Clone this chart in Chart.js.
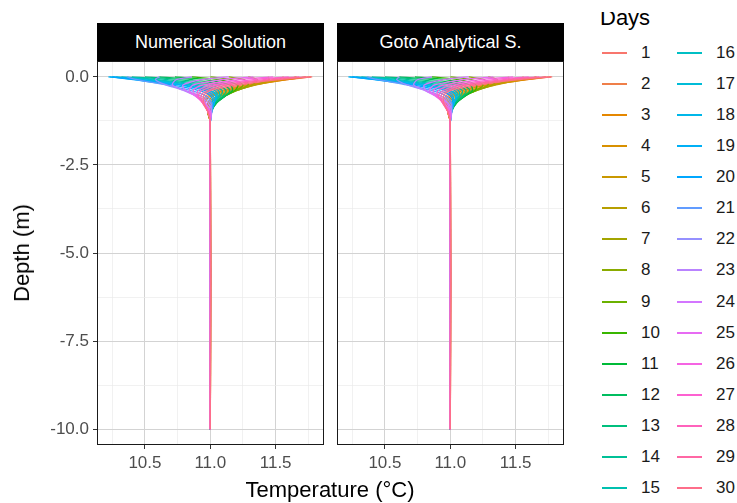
<!DOCTYPE html>
<html>
<head>
<meta charset="utf-8">
<script src="https://cdn.jsdelivr.net/npm/chart.js@4.4.1/dist/chart.umd.min.js"></script>
<style>
body{margin:0;background:#fff;font-family:"Liberation Sans",Arial,sans-serif;}
#wrap{position:relative;width:737px;height:503px;overflow:hidden;background:#fff;}
canvas{position:absolute;}
.strip{position:absolute;top:23px;height:38px;background:#000;color:#fff;font-size:18px;line-height:38px;text-align:center;}
.title{position:absolute;color:#000;font-size:22px;white-space:nowrap;}
#ytitle{left:22px;top:253px;transform:translate(-50%,-50%) rotate(-90deg);}
#xtitle{left:330px;top:490px;transform:translate(-50%,-50%);}
#legtitle{position:absolute;left:600px;top:12px;height:25px;overflow:hidden;font-size:22px;}
#legtitle span{position:relative;top:-4.6px;line-height:22px;display:block;}
.key{position:absolute;width:25px;height:2px;}
.lab{position:absolute;font-size:17px;line-height:20px;color:#1a1a1a;}
</style>
</head>
<body>
<div id="wrap">
  <div class="strip" style="left:97px;width:227px;">Numerical Solution</div>
  <div class="strip" style="left:337px;width:227px;">Goto Analytical S.</div>
  <canvas id="c1" width="294" height="419" style="left:30px;top:61px;"></canvas>
  <canvas id="c2" width="227" height="419" style="left:337px;top:61px;"></canvas>
  <div class="title" id="ytitle">Depth (m)</div>
  <div class="title" id="xtitle">Temperature (°C)</div>
  <div id="legtitle"><span>Days</span></div>
  <div id="legend"></div>
</div>
<script>
// days shown in the legend
var days = [1,2,3,4,5,6,7,8,9,10,11,12,13,14,15,16,17,18,19,20,21,22,23,24,25,26,27,28,29,30];
// depth of each profile point (m)
var depths = [0, -0.08, -0.23, -0.38, -0.53, -0.73, -0.98, -1.3, -10];

// temperature profiles, one row per day
var numerical = [
  [11.78, 11.57, 11.24, 11.05, 10.97, 10.95, 10.98, 11.00, 11.00],
  [11.77, 11.59, 11.28, 11.09, 10.99, 10.96, 10.98, 11.00, 11.00],
  [11.73, 11.59, 11.31, 11.12, 11.01, 10.96, 10.98, 11.00, 11.00],
  [11.66, 11.57, 11.34, 11.15, 11.03, 10.98, 10.98, 11.00, 11.00],
  [11.56, 11.52, 11.35, 11.18, 11.06, 10.99, 10.98, 11.00, 11.00],
  [11.44, 11.45, 11.34, 11.20, 11.08, 11.00, 10.98, 11.00, 11.00],
  [11.29, 11.36, 11.32, 11.21, 11.09, 11.01, 10.98, 11.00, 11.00],
  [11.14, 11.26, 11.29, 11.21, 11.11, 11.03, 10.99, 11.00, 11.00],
  [11.00, 11.16, 11.25, 11.20, 11.12, 11.04, 11.00, 11.00, 11.00],
  [10.86, 11.06, 11.21, 11.19, 11.12, 11.05, 11.00, 11.00, 11.00],
  [10.73, 10.96, 11.15, 11.17, 11.12, 11.05, 11.01, 11.00, 11.00],
  [10.61, 10.86, 11.10, 11.15, 11.12, 11.05, 11.01, 11.00, 11.00],
  [10.50, 10.76, 11.04, 11.12, 11.10, 11.04, 11.01, 11.00, 11.00],
  [10.40, 10.67, 10.98, 11.09, 11.08, 11.03, 11.01, 11.00, 11.00],
  [10.32, 10.59, 10.92, 11.06, 11.07, 11.03, 11.01, 11.00, 11.00],
  [10.28, 10.54, 10.87, 11.03, 11.06, 11.03, 11.01, 11.00, 11.00],
  [10.25, 10.49, 10.83, 11.00, 11.05, 11.03, 11.01, 11.00, 11.00],
  [10.23, 10.46, 10.79, 10.98, 11.04, 11.03, 11.01, 11.00, 11.00],
  [10.22, 10.43, 10.76, 10.95, 11.02, 11.03, 11.01, 11.00, 11.00],
  [10.25, 10.41, 10.70, 10.90, 11.00, 11.02, 11.01, 11.00, 11.00],
  [10.36, 10.44, 10.66, 10.84, 10.96, 11.01, 11.01, 11.00, 11.00],
  [10.61, 10.58, 10.66, 10.80, 10.92, 11.00, 11.01, 11.00, 11.00],
  [10.86, 10.74, 10.71, 10.79, 10.89, 10.98, 11.01, 11.00, 11.00],
  [11.14, 10.94, 10.79, 10.81, 10.88, 10.96, 11.00, 11.00, 11.00],
  [11.33, 11.09, 10.87, 10.84, 10.88, 10.95, 11.00, 11.00, 11.00],
  [11.48, 11.22, 10.95, 10.87, 10.89, 10.94, 10.99, 11.00, 11.00],
  [11.60, 11.33, 11.02, 10.91, 10.90, 10.94, 10.99, 11.00, 11.00],
  [11.68, 11.41, 11.08, 10.94, 10.91, 10.94, 10.98, 11.00, 11.00],
  [11.73, 11.48, 11.14, 10.98, 10.93, 10.94, 10.98, 11.00, 11.00],
  [11.77, 11.53, 11.20, 11.01, 10.95, 10.95, 10.98, 11.00, 11.00]
];
var analytical = [
  [11.78, 11.56, 11.23, 11.05, 10.97, 10.95, 10.98, 11.00, 11.00],
  [11.77, 11.58, 11.27, 11.08, 10.99, 10.96, 10.98, 11.00, 11.00],
  [11.73, 11.59, 11.30, 11.11, 11.01, 10.97, 10.98, 11.00, 11.00],
  [11.66, 11.57, 11.33, 11.15, 11.03, 10.98, 10.98, 11.00, 11.00],
  [11.56, 11.52, 11.35, 11.18, 11.05, 10.99, 10.98, 11.00, 11.00],
  [11.44, 11.45, 11.34, 11.19, 11.08, 11.00, 10.99, 11.00, 11.00],
  [11.29, 11.36, 11.32, 11.21, 11.09, 11.01, 10.99, 11.00, 11.00],
  [11.14, 11.26, 11.29, 11.21, 11.10, 11.03, 10.99, 11.00, 11.00],
  [11.00, 11.16, 11.25, 11.20, 11.11, 11.04, 11.00, 11.00, 11.00],
  [10.86, 11.06, 11.20, 11.19, 11.12, 11.05, 11.00, 11.00, 11.00],
  [10.73, 10.96, 11.15, 11.17, 11.12, 11.05, 11.01, 11.00, 11.00],
  [10.61, 10.86, 11.09, 11.15, 11.11, 11.05, 11.01, 11.00, 11.00],
  [10.50, 10.77, 11.04, 11.12, 11.10, 11.04, 11.01, 11.00, 11.00],
  [10.40, 10.68, 10.98, 11.09, 11.08, 11.03, 11.01, 11.00, 11.00],
  [10.32, 10.60, 10.92, 11.06, 11.07, 11.03, 11.01, 11.00, 11.00],
  [10.28, 10.54, 10.87, 11.03, 11.06, 11.03, 11.01, 11.00, 11.00],
  [10.25, 10.50, 10.83, 11.00, 11.05, 11.03, 11.01, 11.00, 11.00],
  [10.23, 10.46, 10.79, 10.98, 11.04, 11.03, 11.01, 11.00, 11.00],
  [10.22, 10.43, 10.76, 10.95, 11.02, 11.02, 11.01, 11.00, 11.00],
  [10.25, 10.42, 10.71, 10.90, 11.00, 11.02, 11.01, 11.00, 11.00],
  [10.36, 10.45, 10.67, 10.85, 10.96, 11.01, 11.01, 11.00, 11.00],
  [10.61, 10.59, 10.67, 10.81, 10.92, 11.00, 11.01, 11.00, 11.00],
  [10.86, 10.75, 10.72, 10.80, 10.89, 10.98, 11.01, 11.00, 11.00],
  [11.14, 10.95, 10.80, 10.81, 10.88, 10.97, 11.00, 11.00, 11.00],
  [11.33, 11.10, 10.88, 10.84, 10.88, 10.95, 11.00, 11.00, 11.00],
  [11.48, 11.23, 10.96, 10.87, 10.89, 10.95, 10.99, 11.00, 11.00],
  [11.60, 11.33, 11.03, 10.91, 10.90, 10.94, 10.99, 11.00, 11.00],
  [11.68, 11.41, 11.09, 10.95, 10.91, 10.94, 10.98, 11.00, 11.00],
  [11.73, 11.47, 11.14, 10.98, 10.93, 10.94, 10.98, 11.00, 11.00],
  [11.77, 11.53, 11.20, 11.01, 10.95, 10.95, 10.98, 11.00, 11.00]
];

// axis breaks
var xMajor = [10.5, 11.0, 11.5];
var xMinor = [10.25, 10.75, 11.25, 11.75];
var yMajor = [0, -2.5, -5, -7.5, -10];
var yMinor = [-1.25, -3.75, -6.25, -8.75];

Chart.defaults.font.family = '"Liberation Sans", Arial, sans-serif';

// ggplot-like hue palette (hcl, c=100, l=65)
function hcl(h, c, l){
  var hr = h*Math.PI/180;
  var U = c*Math.cos(hr), V = c*Math.sin(hr);
  var Xn = 95.047, Yn = 100, Zn = 108.883;
  var Y = Yn*Math.pow((l+16)/116, 3);
  var t = Xn + 15*Yn + 3*Zn;
  var u = U/(13*l) + 4*Xn/t, v = V/(13*l) + 9*Yn/t;
  var X = 9*Y*u/(4*v), Z = Y*(12 - 3*u - 20*v)/(4*v);
  X/=100; Y/=100; Z/=100;
  var r = 3.2406*X - 1.5372*Y - 0.4986*Z;
  var g = -0.9689*X + 1.8758*Y + 0.0415*Z;
  var b = 0.0557*X - 0.2040*Y + 1.0570*Z;
  function gam(x){ x = x<=0.0031308 ? 12.92*x : 1.055*Math.pow(x,1/2.4)-0.055; return Math.round(Math.max(0,Math.min(1,x))*255); }
  return 'rgb('+gam(r)+','+gam(g)+','+gam(b)+')';
}
var colors = days.map(function(d,i){ return hcl(15 + i*360/days.length, 100, 65); });

function isMajor(v, list){
  for(var i=0;i<list.length;i++){ if(Math.abs(list[i]-v)<1e-6) return true; }
  return false;
}
function numAsc(a,b){ return a-b; }

var borderPlugin = {
  id:'panelBorder',
  afterDraw:function(chart){
    var a = chart.chartArea, ctx = chart.ctx;
    ctx.save();
    ctx.strokeStyle = '#1a1a1a';
    ctx.lineWidth = 1;
    ctx.strokeRect(Math.round(a.left)+0.5, Math.round(a.top)+0.5, Math.round(a.right-a.left)-1, Math.round(a.bottom-a.top)-1);
    ctx.restore();
  }
};

function makePanel(id, temps, showY){
  var datasets = [];
  for(var i=0;i<days.length;i++){
    var pts = [];
    for(var j=0;j<depths.length;j++){ pts.push({x: temps[i][j], y: depths[j]}); }
    datasets.push({
      label: String(days[i]),
      data: pts,
      showLine: true,
      borderColor: colors[i],
      borderWidth: 1.3,
      pointRadius: 0,
      tension: 0.3,
      order: days.length - i
    });
  }
  return new Chart(document.getElementById(id), {
    type:'scatter',
    data:{datasets: datasets},
    plugins:[borderPlugin],
    options:{
      responsive:false,
      animation:false,
      devicePixelRatio:1,
      layout:{padding:0},
      plugins:{legend:{display:false}, tooltip:{enabled:false}},
      scales:{
        x:{
          type:'linear', min:10.133, max:11.870,
          afterBuildTicks:function(s){ s.ticks = xMinor.concat(xMajor).sort(numAsc).map(function(v){return {value:v};}); },
          afterFit:function(s){ s.height = 35; s.paddingLeft = 0; s.paddingRight = 0; },
          border:{display:false},
          grid:{
            color:function(c){ return isMajor(c.tick.value, xMajor) ? '#d3d3d3' : '#ebebeb'; },
            lineWidth:function(c){ return isMajor(c.tick.value, xMajor) ? 1 : 0.7; },
            tickColor:function(c){ return isMajor(c.tick.value, xMajor) ? '#333333' : 'rgba(0,0,0,0)'; },
            tickLength:4
          },
          ticks:{
            autoSkip:false, maxRotation:0, padding:4,
            color:'#4d4d4d', font:{size:17},
            callback:function(v){ return isMajor(v, xMajor) ? v.toFixed(1) : ''; }
          }
        },
        y:{
          type:'linear', min:-10.45, max:0.45,
          afterBuildTicks:function(s){ s.ticks = yMajor.concat(yMinor).sort(numAsc).map(function(v){return {value:v};}); },
          afterFit:function(s){ s.width = showY ? 67 : 0; s.paddingTop = 0; s.paddingBottom = 0; },
          border:{display:false},
          grid:{
            color:function(c){ return isMajor(c.tick.value, yMajor) ? '#d3d3d3' : '#ebebeb'; },
            lineWidth:function(c){ return isMajor(c.tick.value, yMajor) ? 1 : 0.7; },
            tickColor:function(c){ return isMajor(c.tick.value, yMajor) ? '#333333' : 'rgba(0,0,0,0)'; },
            drawTicks: showY,
            tickLength:4
          },
          ticks:{
            display: showY, autoSkip:false, padding:4,
            color:'#4d4d4d', font:{size:17},
            callback:function(v){ return isMajor(v, yMajor) ? v.toFixed(1) : ''; }
          }
        }
      }
    }
  });
}

makePanel('c1', numerical, true);
makePanel('c2', analytical, false);

// legend, two columns of 15
var leg = document.getElementById('legend');
var html = '';
for(var i=0;i<days.length;i++){
  var col = Math.floor(i/15), row = i%15;
  var cy = Math.round(53 + row*31.07);
  var kx = col ? 677 : 602;
  var lx = col ? 716 : 641;
  html += '<div class="key" style="left:'+kx+'px;top:'+(cy-1)+'px;background:'+colors[i]+'"></div>';
  html += '<div class="lab" style="left:'+lx+'px;top:'+(cy-10)+'px;">'+days[i]+'</div>';
}
leg.innerHTML = html;
</script>
</body>
</html>
